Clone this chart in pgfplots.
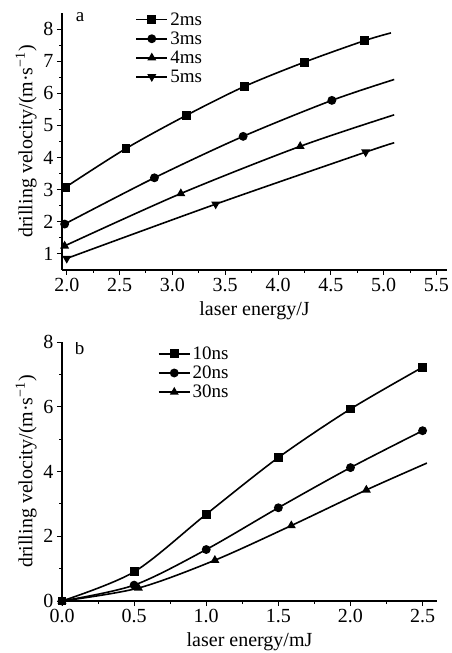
\documentclass[border=0pt]{standalone}
\usepackage{fontspec}
\setmainfont{Liberation Serif}
\usepackage{pgfplots}
\pgfplotsset{compat=1.18}

\pgfplotsset{
  panel/.style={
    scale only axis,
    axis x line=bottom, axis y line=left,
    axis line style={line width=1.2pt,-},
    tick align=outside,
    every tick/.style={black,line width=1pt},
    major tick length=5pt, minor tick length=3pt,
    minor tick num=1,
    tick label style={font=\fontsize{20}{22}\selectfont},
    label style={font=\fontsize{20}{22}\selectfont},
    xlabel style={yshift=-3pt},
    /pgf/number format/assume math mode=true,
    legend cell align=left,
    legend style={draw=none,fill=none,inner sep=0pt,anchor=north west,
      font=\fontsize{19}{21}\selectfont,row sep=1pt},
    legend image code/.code={
      \draw[##1,mark indices={2}] plot coordinates {(0cm,0cm) (0.55cm,0cm) (1.1cm,0cm)};},
    every axis plot/.append style={black,line width=1.6pt,smooth,mark size=3.6pt},
  },
}

\begin{document}
\begin{tikzpicture}
\useasboundingbox (0,0) rectangle (451pt,653pt);

% panel a
\begin{axis}[panel,
  at={(62pt,383pt)}, anchor=south west,
  width=385pt, height=257pt,
  xmin=1.955, xmax=5.6, ymin=0.5, ymax=8.5,
  xtick={2,2.5,...,5.5}, ytick={1,...,8},
  xticklabel style={/pgf/number format/.cd,fixed,fixed zerofill,precision=1},
  xlabel={laser energy/J},
  ylabel={drilling velocity/(m·s\textsuperscript{−1})},
  legend style={at={(0.19,1.01)}},
]
\addplot[mark=square*,mark indices={1,2,3,4,5,6}] coordinates {
(1.99,3.08) (2.56,4.28) (3.13,5.31) (3.68,6.21) (4.25,6.97) (4.82,7.64) (5.07,7.88)};
\addlegendentry{2ms}
\addplot[mark=*,mark indices={1,2,3,4}] coordinates {
(1.98,1.93) (2.83,3.37) (3.67,4.66) (4.51,5.78) (5.1,6.43)};
\addlegendentry{3ms}
\addplot[mark=triangle*,mark indices={1,2,3}] coordinates {
(1.98,1.25) (3.08,2.88) (4.21,4.35) (5.1,5.33)};
\addlegendentry{4ms}
\addplot[mark=triangle*,mark options={rotate=180},mark indices={1,2,3}] coordinates {
(2.0,0.86) (3.41,2.55) (4.83,4.17) (5.1,4.46)};
\addlegendentry{5ms}
\node[font=\fontsize{19}{21}\selectfont] at (rel axis cs:0.047,0.985) {a};
\end{axis}

% panel b
\begin{axis}[panel,
  at={(62pt,52pt)}, anchor=south west,
  width=375pt, height=259pt,
  xmin=0, xmax=2.6, ymin=0, ymax=8,
  xtick={0,0.5,...,2.5}, ytick={0,2,...,8},
  xticklabel style={/pgf/number format/.cd,fixed,fixed zerofill,precision=1},
  xlabel={laser energy/mJ},
  ylabel={drilling velocity/(m·s\textsuperscript{−1})},
  legend style={at={(0.255,0.99)}},
]
\addplot[mark=square*] coordinates {
(0,0) (0.5,0.9) (1.0,2.68) (1.5,4.43) (2.0,5.93) (2.5,7.22)};
\addlegendentry{10ns}
\addplot[mark=*] coordinates {
(0,0) (0.5,0.49) (1.0,1.59) (1.5,2.88) (2.0,4.12) (2.5,5.26)};
\addlegendentry{20ns}
\addplot[mark=triangle*,mark indices={1,2,3,4,5}] coordinates {
(0,0) (0.53,0.40) (1.06,1.26) (1.59,2.33) (2.11,3.43) (2.53,4.26)};
\addlegendentry{30ns}
\node[font=\fontsize{19}{21}\selectfont] at (rel axis cs:0.047,0.977) {b};
\end{axis}
\end{tikzpicture}
\end{document}
